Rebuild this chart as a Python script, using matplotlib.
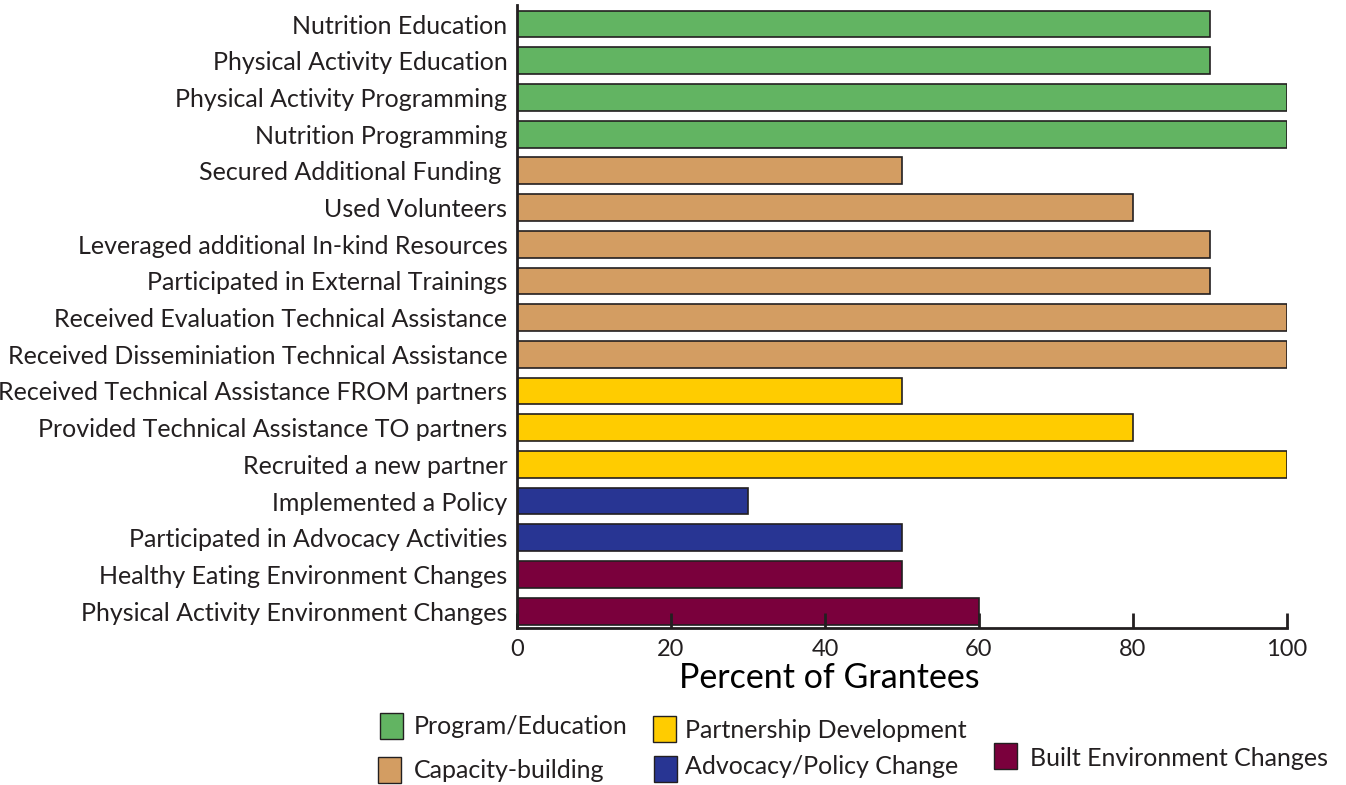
import numpy as np
import matplotlib.pyplot as plt
from matplotlib.patches import Rectangle

plt.rcParams['font.family'] = ['Lato', 'DejaVu Sans']

labels = ['Nutrition Education', 'Physical Activity Education',
          'Physical Activity Programming', 'Nutrition Programming',
          'Secured Additional Funding ', 'Used Volunteers',
          'Leveraged additional In-kind Resources',
          'Participated in External Trainings',
          'Received Evaluation Technical Assistance',
          'Received Disseminiation Technical Assistance',
          'Received Technical Assistance FROM partners',
          'Provided Technical Assistance TO partners',
          'Recruited a new partner', 'Implemented a Policy',
          'Participated in Advocacy Activities',
          'Healthy Eating Environment Changes',
          'Physical Activity Environment Changes']
values = [90, 90, 100, 100, 50, 80, 90, 90, 100, 100, 50, 80, 100, 30, 50, 50, 60]
groups = [0, 0, 0, 0, 1, 1, 1, 1, 1, 1, 2, 2, 2, 3, 3, 4, 4]
group_names = ['Program/Education', 'Capacity-building', 'Partnership Development',
               'Advocacy/Policy Change', 'Built Environment Changes']
group_colors = ['#62B462', '#D39D62', '#FFCC00', '#283593', '#7A003C']

fig = plt.figure(figsize=(13.46, 7.85), dpi=100)
ax = fig.add_axes([517 / 1346, 1 - 628 / 785, 770 / 1346, 623 / 785])

y = np.arange(len(labels))
colors = [group_colors[g] for g in groups]
ax.barh(y, values, height=0.73, color=colors, edgecolor='#231F20', linewidth=1.2)

ax.set_xlim(0, 100)
ax.set_ylim(16.46, -0.52)
ax.set_yticks(y)
ax.set_yticklabels(labels, fontsize=18, color='#231F20')
ax.tick_params(axis='y', length=0, pad=7)
ax.set_xticks([0, 20, 40, 60, 80, 100])
ax.tick_params(axis='x', direction='in', length=11, width=2, labelsize=17,
               pad=8, colors='#231F20')
for s in ['top', 'right']:
    ax.spines[s].set_visible(False)
ax.spines['left'].set_linewidth(2)
ax.spines['bottom'].set_linewidth(2)
ax.spines['left'].set_color('#231F20')
ax.spines['bottom'].set_color('#231F20')

fig.text(829 / 1346, 1 - 678 / 785, 'Percent of Grantees', fontsize=24.5,
         ha='center', va='center', color='#000000')

# legend placed like the original
legend_pos = [(380, 713, 414, 727), (378, 757, 414, 770), (653, 716, 685, 731),
              (654, 756, 685, 767), (994, 743, 1030, 759)]
for i, (sx, sy, tx, ty) in enumerate(legend_pos):
    fig.add_artist(Rectangle((sx / 1346, 1 - (sy + 26) / 785), 23 / 1346, 26 / 785,
                             transform=fig.transFigure, facecolor=group_colors[i],
                             edgecolor='#231F20', linewidth=1))
    fig.text(tx / 1346, 1 - ty / 785, group_names[i], fontsize=18,
             ha='left', va='center', color='#231F20')

fig.savefig('out.png', dpi=100)
